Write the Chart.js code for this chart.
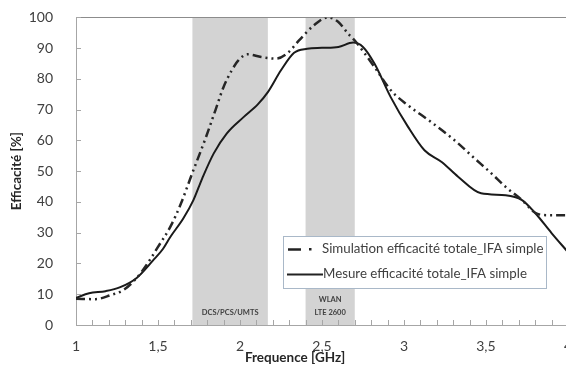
<!DOCTYPE html>
<html><head><meta charset="utf-8">
<script src="https://cdn.jsdelivr.net/npm/chart.js@4"></script>
<style>
html,body{margin:0;padding:0;overflow:hidden;background:#fff;width:566px;height:367px}
#wrap{position:absolute;left:0;top:-6px;width:577px;height:373px}
</style>
</head><body><div id="wrap"><canvas id="c" width="577" height="373"></canvas></div>
<script>
const simFreq = [1.00,1.12,1.21,1.29,1.37,1.43,1.50,1.575,1.64,1.71,1.79,1.85,1.90,1.95,1.99,2.045,2.13,2.22,2.29,2.36,2.45,2.535,2.60,2.66,2.70,2.76,2.82,2.92,3.025,3.15,3.31,3.43,3.535,3.62,3.72,3.80,3.88,4.00];
const simEff  = [8.5,8.4,9.7,11.4,15.3,19.5,25.4,31.9,39.5,49.5,60.7,69.8,77.4,82.8,86,88,87.1,86.6,88.4,92.5,97.4,100,98.5,94.7,92.5,88.3,83.9,76.3,71.4,66.6,60,54.2,49.2,44.9,40.6,36.5,35.7,35.7];
const measFreq = [1.00,1.08,1.18,1.27,1.37,1.47,1.53,1.575,1.655,1.716,1.77,1.84,1.92,2.02,2.11,2.17,2.25,2.33,2.41,2.50,2.60,2.69,2.75,2.82,2.92,3.025,3.125,3.23,3.33,3.47,3.62,3.72,3.80,3.90,4.00];
const measEff  = [8.8,10.3,11.0,12.3,15.3,21.0,24.7,28.6,34.7,40.6,47.7,55.8,62.3,67.5,71.8,75.7,82.8,88.5,89.8,90.1,90.4,91.8,90.4,85,74,64.4,56.8,53,48.2,42.8,42.2,40.6,36.4,29.9,23.7];
const seriesNames = ['Simulation efficacité totale_IFA simple','Mesure efficacité totale_IFA simple'];
const xTitle = 'Frequence [GHz]';
const yTitle = 'Efficacité [%]';
const bandStart = [1.71, 2.40];
const bandEnd   = [2.17, 2.70];
const bandLabels = [['DCS/PCS/UMTS'], ['WLAN','LTE 2600']];

const simDash = [9,4,2,4,2,4];
const FONT = 'Lato, "Open Sans", sans-serif';
const OFF = 6; // canvas is shifted up by this many pixels on the page

const decor = {
  id:'decor',
  beforeDatasetsDraw(chart){
    const {ctx, chartArea:a, scales:{x,y}} = chart;
    ctx.save();
    ctx.fillStyle = '#d3d3d3';
    for (let i=0;i<bandStart.length;i++){
      const x0 = x.getPixelForValue(bandStart[i]), x1 = x.getPixelForValue(bandEnd[i]);
      ctx.fillRect(x0, a.top, x1-x0, a.bottom-a.top);
    }
    ctx.fillStyle = '#404040';
    ctx.font = 'bold 7.5px ' + FONT;
    ctx.textAlign = 'center'; ctx.textBaseline = 'middle';
    for (let i=0;i<bandStart.length;i++){
      const xc = (x.getPixelForValue(bandStart[i]) + x.getPixelForValue(bandEnd[i]))/2;
      const lines = bandLabels[i];
      for (let j=0;j<lines.length;j++){
        const yy = a.bottom - 12 - (lines.length-1-j)*13;
        ctx.fillText(lines[j], xc, yy);
      }
    }
    ctx.strokeStyle = '#8c8c8c'; ctx.lineWidth = 1;
    ctx.beginPath(); ctx.moveTo(a.left, Math.round(a.top)+0.5); ctx.lineTo(a.right, Math.round(a.top)+0.5); ctx.stroke();
    ctx.strokeStyle = '#a6a6a6';
    ctx.beginPath();
    for (let v=0; v<=100; v+=10){
      const py = Math.round(y.getPixelForValue(v))+0.5;
      ctx.moveTo(a.left, py); ctx.lineTo(a.left+5, py);
    }
    for (let k=10; k<=40; k++){
      const px = Math.round(x.getPixelForValue(k/10))+0.5;
      ctx.moveTo(px, a.bottom); ctx.lineTo(px, a.bottom-5);
    }
    ctx.stroke();
    ctx.fillStyle = '#262626';
    ctx.font = 'bold 13.5px ' + FONT;
    ctx.textAlign = 'center'; ctx.textBaseline = 'middle';
    ctx.fillText(xTitle, 295, 358+OFF);
    ctx.save();
    ctx.translate(17, (a.top+a.bottom)/2);
    ctx.rotate(-Math.PI/2);
    ctx.fillText(yTitle, 0, 0);
    ctx.restore();
    ctx.restore();
  },
  afterDraw(chart){
    const {ctx} = chart;
    ctx.save();
    ctx.translate(0, OFF);
    const bx=283.5, by=236.5, bw=263, bh=52;
    ctx.fillStyle='#fff'; ctx.fillRect(bx,by,bw,bh);
    ctx.strokeStyle='#a9b8c8'; ctx.lineWidth=1; ctx.strokeRect(bx,by,bw,bh);
    ctx.strokeStyle='#222'; ctx.lineWidth=2.5;
    ctx.beginPath(); ctx.moveTo(288,249.5); ctx.lineTo(301,249.5); ctx.stroke();
    ctx.fillStyle='#222'; ctx.fillRect(309,248,2.5,2.5);
    ctx.lineWidth=2;
    ctx.beginPath(); ctx.moveTo(287,274.5); ctx.lineTo(323,274.5); ctx.stroke();
    ctx.fillStyle='#404040';
    ctx.font='13.3px '+FONT; ctx.textAlign='left'; ctx.textBaseline='middle';
    ctx.fillText(seriesNames[0], 322, 249);
    ctx.fillText(seriesNames[1], 323, 274);
    ctx.restore();
  }
};

new Chart(document.getElementById('c'), {
  type:'line',
  data:{datasets:[
    {label:seriesNames[0], data:simFreq.map((f,i)=>({x:f,y:simEff[i]})), borderColor:'#262626', borderWidth:2.5, borderDash:simDash, pointRadius:0, cubicInterpolationMode:'monotone', fill:false},
    {label:seriesNames[1], data:measFreq.map((f,i)=>({x:f,y:measEff[i]})), borderColor:'#1a1a1a', borderWidth:2, pointRadius:0, cubicInterpolationMode:'monotone', fill:false}
  ]},
  options:{
    responsive:false, animation:false, devicePixelRatio:1,
    layout:{padding:{top:10,left:0,right:0,bottom:0}},
    plugins:{legend:{display:false}, tooltip:{enabled:false}},
    scales:{
      x:{type:'linear', min:1, max:4,
        afterFit(s){ s.height = 42; },
        grid:{display:false}, border:{display:true,color:'#a6a6a6'},
        ticks:{stepSize:0.5, padding:5, color:'#404040', font:{family:FONT,size:14},
          callback:v=>String(v).replace('.',',')},
        title:{display:false}
      },
      y:{min:0, max:100,
        afterFit(s){ s.width = 76; },
        grid:{display:false}, border:{display:true,color:'#a6a6a6'},
        ticks:{stepSize:10, padding:15, color:'#404040', font:{family:FONT,size:14}},
        title:{display:false}
      }
    }
  },
  plugins:[decor]
});
</script></body></html>
